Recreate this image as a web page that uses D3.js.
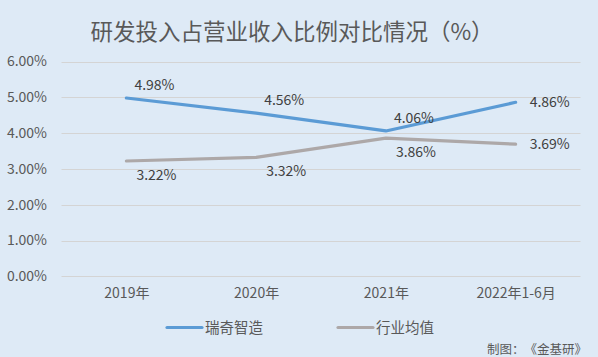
<!DOCTYPE html>
<html>
<head>
<meta charset="utf-8">
<script src="https://cdn.jsdelivr.net/npm/d3@7"></script>
<style>
html,body{margin:0;padding:0;background:#DEEAF6;}
svg{display:block;}
text{font-family:"Noto Sans CJK SC","Noto Sans",sans-serif;text-spacing-trim:space-all;}
</style>
</head>
<body>
<svg id="chart" width="598" height="357"></svg>
<script>
const title = "研发投入占营业收入比例对比情况（%）";
const categories = ["2019年", "2020年", "2021年", "2022年1-6月"];
const seriesNames = ["瑞奇智造", "行业均值"];
const ruiqi = [4.98, 4.56, 4.06, 4.86];
const industry = [3.22, 3.32, 3.86, 3.69];
const yTicks = [0, 1, 2, 3, 4, 5, 6];
const source = "制图：《金基研》";
const colors = ["#5B9BD5", "#ADA8A8"];
const placements = [["above", "above", "above", "right"], ["below", "below", "below", "right"]];

const svg = d3.select("#chart");
const W = 598, H = 357;
svg.append("rect").attr("width", W).attr("height", H).attr("fill", "#DEEAF6");

const x = d3.scalePoint().domain(categories).range([61.5, 580.5]).padding(0.5);
const y = d3.scaleLinear().domain([0, 6]).range([276.3, 61.5]);

// title
svg.append("text").attr("x", 292).attr("y", 40).attr("text-anchor", "middle")
  .attr("font-size", 22.5).attr("fill", "#595959").text(title);

// grid
svg.append("g").selectAll("line").data(yTicks).join("line")
  .attr("x1", 61.5).attr("x2", 580.5)
  .attr("y1", d => Math.round(y(d)) + 0.5).attr("y2", d => Math.round(y(d)) + 0.5)
  .attr("stroke", "#D4D4D4").attr("stroke-width", 1);

// y labels
const yAxis = d3.axisLeft(y).tickValues(yTicks).tickSize(0).tickPadding(0)
  .tickFormat(d => d3.format(".2f")(d) + "%");
const gy = svg.append("g").attr("transform", "translate(47,0)").call(yAxis);
gy.select(".domain").remove();
gy.selectAll("text").attr("font-size", 14).attr("fill", "#595959")
  .attr("font-family", "\"Noto Sans CJK SC\",sans-serif");

// x labels
const xAxis = d3.axisBottom(x).tickSize(0).tickPadding(0);
const gx = svg.append("g").attr("transform", "translate(0,288)").call(xAxis);
gx.select(".domain").remove();
gx.selectAll("text").attr("font-size", 14).attr("fill", "#595959")
  .attr("font-family", "\"Noto Sans CJK SC\",sans-serif");

// lines
const series = [ruiqi, industry];
const line = d3.line().x((d, i) => x(categories[i])).y(d => y(d));
series.forEach((s, k) => {
  svg.append("path").datum(s).attr("d", line).attr("fill", "none")
    .attr("stroke", colors[k]).attr("stroke-width", 3.2)
    .attr("stroke-linejoin", "round").attr("stroke-linecap", "round");
});

// data labels
const offs = {above: [8, -8], below: [10, 19], right: [14, 5]};
series.forEach((s, k) => {
  svg.append("g").selectAll("text").data(s).join("text")
    .attr("x", (d, i) => x(categories[i]) + offs[placements[k][i]][0])
    .attr("y", (d, i) => y(d) + offs[placements[k][i]][1])
    .attr("font-size", 14).attr("fill", "#404040")
    .text(d => d3.format(".2f")(d) + "%");
});

// legend
const legendX = [167, 338];
seriesNames.forEach((n, k) => {
  svg.append("line").attr("x1", legendX[k]).attr("x2", legendX[k] + 35)
    .attr("y1", 327.5).attr("y2", 327.5).attr("stroke", colors[k]).attr("stroke-width", 3.2)
    .attr("stroke-linecap", "round");
  svg.append("text").attr("x", legendX[k] + 38).attr("y", 332.5)
    .attr("font-size", 14.5).attr("fill", "#595959").text(n);
});

// source
svg.append("text").attr("x", 587).attr("y", 353.5).attr("text-anchor", "end")
  .attr("font-size", 12.5).attr("fill", "#595959").text(source);
</script>
</body>
</html>
